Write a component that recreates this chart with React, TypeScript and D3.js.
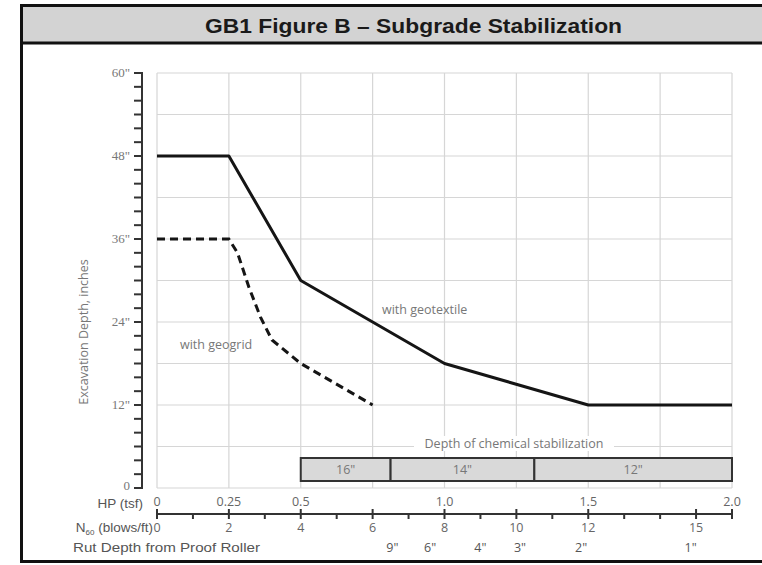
import React, { useEffect, useRef } from "react";
import * as d3 from "d3";

// depth in inches vs HP (tsf)
const geotextileHP = [0, 0.25, 0.5, 1.0, 1.5, 2.0];
const geotextileDepth = [48, 48, 30, 18, 12, 12];

const geogridHP = [0, 0.25, 0.28, 0.32, 0.36, 0.4, 0.5, 0.75];
const geogridDepth = [36, 36, 34, 29, 24.7, 21.4, 18, 12];

const hpTicks = [0, 0.25, 0.5, 1.0, 1.5, 2.0];
const hpTickLabels = ["0", "0.25", "0.5", "1.0", "1.5", "2.0"];

const n60Labels = [0, 2, 4, 6, 8, 10, 12, 15];
const n60Major = [0, 2, 4, 6, 8, 10, 12, 15, 16];

const rutN60 = [6.55, 7.6, 9.0, 10.1, 11.8, 14.85];
const rutLabels = ['9"', '6"', '4"', '3"', '2"', '1"'];

// chemical stabilization bands, in N60 units
const chemStart = [4, 6.5, 10.5];
const chemEnd = [6.5, 10.5, 16];
const chemLabels = ['16"', '14"', '12"'];

const yLabelTicks = [0, 12, 24, 36, 48, 60];

export default function App() {
  const ref = useRef<SVGSVGElement>(null);

  useEffect(() => {
    const svg = d3.select(ref.current);
    svg.selectAll("*").remove();

    const x = d3.scaleLinear().domain([0, 2]).range([157, 732]);
    const n = d3.scaleLinear().domain([0, 16]).range([157, 732]);
    const y = d3.scaleLinear().domain([0, 60]).range([488, 73]);

    const sans = "'Liberation Sans', Arial, sans-serif";
    const calib = "'Open Sans', Lato, sans-serif";

    // frame + title band
    svg.append("rect").attr("x", 21.5).attr("y", 5.5).attr("width", 760).attr("height", 556)
      .attr("fill", "#fff").attr("stroke", "#111").attr("stroke-width", 3);
    svg.append("rect").attr("x", 23).attr("y", 7).attr("width", 760).attr("height", 35)
      .attr("fill", "#d3d3d3");
    svg.append("line").attr("x1", 21.5).attr("x2", 762).attr("y1", 43).attr("y2", 43)
      .attr("stroke", "#111").attr("stroke-width", 3);
    svg.append("text").attr("x", 205).attr("y", 33)
      .attr("textLength", 417).attr("lengthAdjust", "spacingAndGlyphs")
      .style("font-family", sans).style("font-weight", "bold").style("font-size", "21px")
      .attr("fill", "#1a1a1a").text("GB1 Figure B \u2013 Subgrade Stabilization");

    // grid
    const grid = svg.append("g").attr("stroke", "#d6d6d6").attr("stroke-width", 1.2);
    grid.selectAll("line.v").data(d3.range(0, 2.001, 0.25)).enter().append("line")
      .attr("x1", d => x(d)).attr("x2", d => x(d)).attr("y1", y(60)).attr("y2", y(0));
    grid.selectAll("line.h").data(d3.range(0, 60.001, 6)).enter().append("line")
      .attr("x1", x(0)).attr("x2", x(2)).attr("y1", d => y(d)).attr("y2", d => y(d));

    // y axis
    const ya = svg.append("g").attr("stroke", "#333").attr("stroke-width", 2);
    ya.append("line").attr("x1", 142).attr("x2", 142).attr("y1", y(60) - 1).attr("y2", y(0) + 1);
    ya.selectAll("line.t").data(d3.range(0, 60.001, 2)).enter().append("line")
      .attr("x1", 134).attr("x2", 142).attr("y1", d => y(d)).attr("y2", d => y(d));
    svg.selectAll("text.yl").data(yLabelTicks).enter().append("text")
      .attr("x", 130).attr("y", d => (d === 0 ? y(d) + 2 : y(d) + 4)).attr("text-anchor", "end")
      .style("font-family", "'Liberation Serif', serif").style("font-size", "13px")
      .attr("fill", "#777").text(d => (d === 0 ? "0" : d + '"'));
    svg.append("text").attr("transform", "translate(88,332) rotate(-90)")
      .attr("text-anchor", "middle").style("font-family", calib).style("font-size", "12.5px")
      .attr("fill", "#777").text("Excavation Depth, inches");

    // chemical stabilization bar
    svg.append("rect").attr("x", 414).attr("y", 436).attr("width", 200).attr("height", 15).attr("fill", "#fff");
    svg.append("text").attr("x", 514).attr("y", 448).attr("text-anchor", "middle")
      .style("font-family", calib).style("font-size", "12.5px").attr("fill", "#777")
      .text("Depth of chemical stabilization");
    const chem = svg.append("g");
    chemStart.forEach((s, i) => {
      chem.append("rect").attr("x", n(s)).attr("y", 458).attr("width", n(chemEnd[i]) - n(s)).attr("height", 23)
        .attr("fill", "#d9d9d9").attr("stroke", "#333").attr("stroke-width", 2);
      chem.append("text").attr("x", (n(s) + n(chemEnd[i])) / 2).attr("y", 474).attr("text-anchor", "middle")
        .style("font-family", calib).style("font-size", "12.5px").attr("fill", "#777").text(chemLabels[i]);
    });

    // lines
    const line = d3.line<[number, number]>().x(d => x(d[0])).y(d => y(d[1]));
    svg.append("path").datum(geotextileHP.map((h, i) => [h, geotextileDepth[i]] as [number, number]))
      .attr("d", line).attr("fill", "none").attr("stroke", "#151515").attr("stroke-width", 3)
      .attr("stroke-linejoin", "round");
    svg.append("path").datum(geogridHP.map((h, i) => [h, geogridDepth[i]] as [number, number]))
      .attr("d", line).attr("fill", "none").attr("stroke", "#151515").attr("stroke-width", 3)
      .attr("stroke-dasharray", "8,5");

    svg.append("text").attr("x", 382).attr("y", 314).style("font-family", calib).style("font-size", "12.5px")
      .attr("fill", "#777").text("with geotextile");
    svg.append("text").attr("x", 180).attr("y", 349).style("font-family", calib).style("font-size", "12.5px")
      .attr("fill", "#777").text("with geogrid");

    // HP axis labels
    svg.selectAll("text.hp").data(hpTicks).enter().append("text")
      .attr("x", d => x(d)).attr("y", 506).attr("text-anchor", "middle")
      .style("font-family", calib).style("font-size", "12.5px").attr("fill", "#666")
      .text((d, i) => hpTickLabels[i]);
    svg.append("text").attr("x", 143).attr("y", 508).attr("text-anchor", "end")
      .style("font-family", sans).style("font-size", "13.5px").attr("fill", "#555").text("HP (tsf)");

    // N60 axis
    const na = svg.append("g").attr("stroke", "#333").attr("stroke-width", 2);
    na.append("line").attr("x1", n(0)).attr("x2", n(16)).attr("y1", 514).attr("y2", 514);
    na.selectAll("line.t").data(d3.range(0, 17)).enter().append("line")
      .attr("x1", d => n(d)).attr("x2", d => n(d))
      .attr("y1", d => (n60Major.includes(d) ? 509 : 514)).attr("y2", 519);
    svg.selectAll("text.n").data(n60Labels).enter().append("text")
      .attr("x", d => n(d)).attr("y", 532).attr("text-anchor", "middle")
      .style("font-family", calib).style("font-size", "12.5px").attr("fill", "#666").text(d => d);
    const nl = svg.append("text").attr("x", 153).attr("y", 532).attr("text-anchor", "end")
      .style("font-family", sans).style("font-size", "13.5px").attr("fill", "#555");
    nl.append("tspan").text("N");
    nl.append("tspan").attr("dy", 3).style("font-size", "8px").text("60");
    nl.append("tspan").attr("dy", -3).text(" (blows/ft)");

    // rut depth row
    svg.append("text").attr("x", 73).attr("y", 552)
      .attr("textLength", 187).attr("lengthAdjust", "spacingAndGlyphs")
      .style("font-family", sans).style("font-size", "13.5px").attr("fill", "#555")
      .text("Rut Depth from Proof Roller");
    svg.selectAll("text.r").data(rutN60).enter().append("text")
      .attr("x", d => n(d)).attr("y", 552).attr("text-anchor", "middle")
      .style("font-family", calib).style("font-size", "12.5px").attr("fill", "#555")
      .text((d, i) => rutLabels[i]);
  }, []);

  return (
    <svg ref={ref} width={762} height={565} style={{ position: "absolute", left: 0, top: 0, background: "#fff" }} />
  );
}
